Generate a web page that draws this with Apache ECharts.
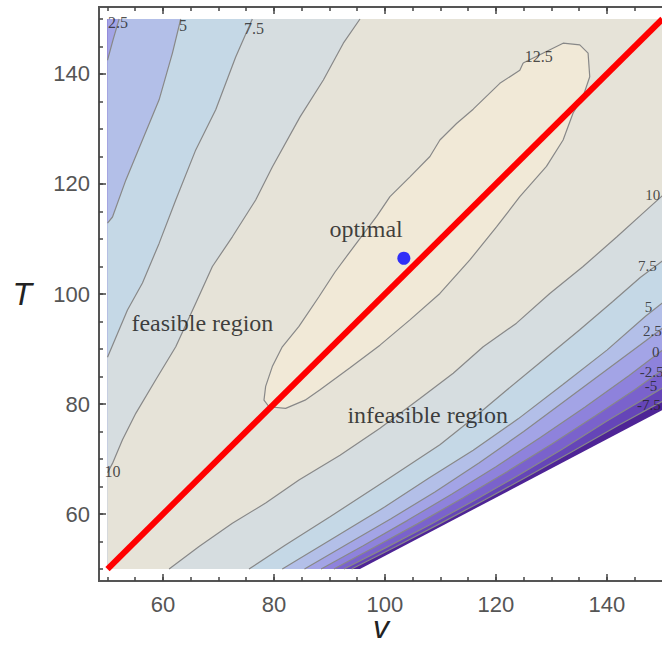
<!DOCTYPE html>
<html>
<head>
<meta charset="utf-8">
<script src="https://cdn.jsdelivr.net/npm/echarts@6/dist/echarts.min.js"></script>
<style>
  html, body { margin: 0; padding: 0; background: #fff; }
  #main { width: 662px; height: 649px; }
</style>
</head>
<body>
<div id="main"></div>
<script>
// tick values
const vTicks = [60, 80, 100, 120, 140];
const vMinor = [50, 55, 60, 65, 70, 75, 80, 85, 90, 95, 100, 105, 110, 115, 120, 125, 130, 135, 140, 145, 150];
const tTicks = [60, 80, 100, 120, 140];
const tMinor = [50, 55, 60, 65, 70, 75, 80, 85, 90, 95, 100, 105, 110, 115, 120, 125, 130, 135, 140, 145, 150];

// contour lines, points are [v, T]
// upper-left branch: from top edge down to left edge
const upper2_5 = [[52.1, 150], [51.0, 146.2], [50, 142.5]];
const upper5 = [[63.2, 150], [61.7, 143.8], [59.3, 135.3], [56.3, 128], [53.3, 120.7], [50.9, 114], [50, 112.9]];
const upper7_5 = [[76.1, 150], [73.1, 143.1], [69.5, 133.5], [65.9, 126.2], [62.3, 117.1], [59.3, 109.2], [56.3, 102], [53.6, 97.1], [50, 88.5]];
const upper10 = [[95.5, 150], [92.5, 145.6], [88.9, 138.9], [84.7, 132.2], [79.7, 123.1], [76.7, 117.1], [72.5, 110.4], [68.9, 105],
  [65.9, 98.3], [62.3, 90.4], [58.7, 84.4], [55.1, 78.3], [52.7, 73.5], [50.9, 69.2], [50, 67.5]];

// lower-right branch: from bottom edge up to right edge
const lower10 = [[61.1, 50], [66.5, 54.1], [72.5, 58.3], [78.5, 62], [84.5, 66.2], [91.9, 70.7], [99.1, 75.6], [106.3, 81],
  [112.3, 85.6], [117.7, 90.4], [123.7, 94.7], [129.7, 100.1], [135.7, 105], [141.8, 110.4], [146.5, 114.7], [150, 117.9]];
const lower7_5 = [[75.5, 50], [82, 54.3], [90.1, 59.5], [100, 66], [109.9, 72.6], [116, 77.5], [121.9, 82.5], [128.5, 88],
  [135.1, 93.5], [141, 98.6], [146, 103], [150, 106]];
const lower5 = [[81.5, 50], [90, 55.2], [100, 61.3], [108, 66.6], [115.9, 71.6], [124, 77.3], [132, 83.5], [140, 89.8], [147, 96], [150, 98.4]];
const lower2_5 = [[85.5, 50], [93, 54.4], [101, 59.1], [109, 64], [117, 69.3], [125, 75], [133, 81], [141, 87], [147, 91.5], [150, 93.8]];
const lower0 = [[88.5, 50], [96, 54.2], [104, 58.8], [112, 63.6], [120, 68.6], [128, 73.9], [136, 79.4], [144, 85.2], [150, 89.8]];
const lowerM2_5 = [[90.8, 50], [98, 53.9], [106, 58.3], [114, 62.9], [122, 67.7], [130, 72.7], [138, 77.9], [145, 82.6], [150, 86.2]];
const lowerM5 = [[92.6, 50], [100, 53.8], [108, 58], [116, 62.4], [124, 67], [132, 71.8], [140, 76.9], [150, 82.9]];
const lowerM7_5 = [[94, 50], [102, 54.1], [110, 58.3], [118, 62.6], [126, 67], [134, 71.5], [142, 76.1], [150, 80.5]];

// the 12.5 island
const island12_5 = [[124.9, 142], [127.9, 143.5], [132.1, 145.6], [135.1, 145.3], [136.6, 143.8], [136.9, 139.5], [135.7, 135.9],
  [133.9, 132.9], [132.1, 128], [129.1, 123.2], [124.3, 117.7], [120.1, 112.2], [115.3, 106.2], [109.9, 100.1], [104.5, 95.3],
  [99.1, 90.7], [93.7, 86.6], [88.3, 82.6], [85.6, 80.7], [82.1, 79.2], [79.1, 79.5], [78.2, 80.7], [78.5, 83.2], [79.7, 86.8],
  [81.5, 90.4], [84.5, 94.1], [88.1, 99.5], [91, 104], [94.6, 108.9], [98.5, 114.1], [100.9, 117.7], [104.5, 121.3], [108.1, 125],
  [109.9, 128], [112.9, 131], [115.9, 133.6], [120.7, 138.3], [124.3, 140.7], [124.9, 142]];

// edge of the defined region (white below it)
const domainEdge = [[95.5, 50], [150, 78.9]];

const constraintLine = [[50, 50], [150, 150]];
const optimum = [[103.4, 106.5]];

const regionText = [
  { name: 'optimal', value: [96.6, 111.8] },
  { name: 'feasible region', value: [67.1, 94.7] },
  { name: 'infeasible region', value: [107.7, 78.0] },
];
const contourText = [
  { name: '2.5', value: [51.9, 149.3] },
  { name: '5', value: [63.6, 148.9] },
  { name: '7.5', value: [76.4, 148.3] },
  { name: '12.5', value: [127.7, 143.1] },
  { name: '10', value: [50.9, 67.7] },
];
const edgeText = [
  { name: '10', value: [146.9, 118.0] },
  { name: '7.5', value: [145.6, 105.0] },
  { name: '5', value: [146.8, 97.7] },
  { name: '2.5', value: [146.5, 93.3] },
  { name: '0', value: [148.1, 89.5] },
  { name: '-2.5', value: [145.9, 85.9] },
  { name: '-5', value: [146.8, 83.2] },
  { name: '-7.5', value: [145.4, 79.8] },
];

function superlevel(lower, upper) {
  var pts = [[50, 50]].concat(lower, [[150, 150]]);
  return upper ? pts.concat(upper) : pts.concat([[50, 150]]);
}

var bands = [
  { poly: [[50, 50]].concat(domainEdge, [[150, 150], [50, 150]]), color: '#4e2496' },
  { poly: superlevel(lowerM7_5), color: '#6545b8' },
  { poly: superlevel(lowerM5), color: '#7a62cc' },
  { poly: superlevel(lowerM2_5), color: '#8e82dc' },
  { poly: superlevel(lower0), color: '#a3a4e6' },
  { poly: superlevel(lower2_5, upper2_5), color: '#b3bfe8' },
  { poly: superlevel(lower5, upper5), color: '#c5d8e6' },
  { poly: superlevel(lower7_5, upper7_5), color: '#d6dde0' },
  { poly: superlevel(lower10, upper10), color: '#e6e3d8' },
  { poly: island12_5, color: '#f1e9d7' },
];

var contourLines = [upper2_5, upper5, upper7_5, upper10, lower10, lower7_5, lower5, lower2_5,
  lower0, lowerM2_5, lowerM5, lowerM7_5, island12_5];

var series = [];
bands.forEach(function (b) {
  series.push({
    type: 'custom',
    silent: true,
    z: 1,
    data: [[100, 100]],
    renderItem: function (params, api) {
      return {
        type: 'polygon',
        shape: { points: b.poly.map(function (p) { return api.coord(p); }) },
        style: { fill: b.color },
      };
    },
  });
});
contourLines.forEach(function (l) {
  series.push({
    type: 'line',
    data: l,
    showSymbol: false,
    silent: true,
    z: 2,
    lineStyle: { color: '#888', width: 1.2 },
  });
});
series.push({
  type: 'line',
  data: constraintLine,
  showSymbol: false,
  silent: true,
  z: 3,
  lineStyle: { color: '#ff0000', width: 6 },
});
series.push({
  type: 'scatter',
  data: optimum,
  symbolSize: 13,
  silent: true,
  z: 5,
  itemStyle: { color: '#0000ff' },
});
series.push({
  type: 'scatter',
  data: regionText,
  symbolSize: 0,
  silent: true,
  z: 6,
  label: { show: true, position: 'inside', formatter: '{b}', fontFamily: 'Liberation Serif', fontSize: 24, color: '#111' },
});
series.push({
  type: 'scatter',
  data: contourText,
  symbolSize: 0,
  silent: true,
  z: 6,
  label: { show: true, position: 'inside', formatter: '{b}', fontFamily: 'Liberation Serif', fontSize: 16, color: '#222' },
});
series.push({
  type: 'scatter',
  data: edgeText,
  symbolSize: 0,
  silent: true,
  z: 6,
  label: { show: true, position: 'right', distance: 0, align: 'left', formatter: '{b}', fontFamily: 'Liberation Serif', fontSize: 15, color: '#222' },
});

var xMin = 48.47, xMax = 150.1, yMin = 47.82, yMax = 152.18;
var frameLine = { show: true, lineStyle: { color: '#555', width: 2 } };

function frameAxis(pos, ticks, len, labels, extra) {
  var a = {
    type: 'value',
    position: pos,
    min: pos === 'left' || pos === 'right' ? yMin : xMin,
    max: pos === 'left' || pos === 'right' ? yMax : xMax,
    axisLine: frameLine,
    splitLine: { show: false },
    axisTick: { show: true, inside: true, length: len, customValues: ticks, lineStyle: { color: '#444', width: 1.5 } },
    axisLabel: labels
      ? { show: true, customValues: ticks, fontFamily: 'Liberation Sans', fontSize: 22, color: '#555', margin: pos === 'left' ? 9 : 12 }
      : { show: false },
  };
  return Object.assign(a, extra || {});
}

var chart = echarts.init(document.getElementById('main'), null, { renderer: 'svg' });
chart.setOption({
  animation: false,
  grid: { left: 99, right: -1, top: 7, bottom: 68, outerBoundsMode: 'none', containLabel: false },
  xAxis: [
    frameAxis('bottom', vTicks, 7, true, {
      name: 'v', nameLocation: 'middle', nameGap: 30, nameMoveOverlap: false,
      nameTextStyle: { fontFamily: 'Liberation Sans', fontStyle: 'italic', fontSize: 32, color: '#222' },
    }),
    frameAxis('bottom', vMinor, 4, false),
    frameAxis('top', vTicks, 7, false),
    frameAxis('top', vMinor, 4, false),
  ],
  yAxis: [
    frameAxis('left', tTicks, 7, true, {
      name: 'T', nameLocation: 'middle', nameGap: 67, nameRotate: 0, nameMoveOverlap: false,
      nameTextStyle: { fontFamily: 'Liberation Sans', fontStyle: 'italic', fontSize: 32, color: '#222' },
    }),
    frameAxis('left', tMinor, 4, false),
  ],
  series: series,
});
</script>
</body>
</html>
